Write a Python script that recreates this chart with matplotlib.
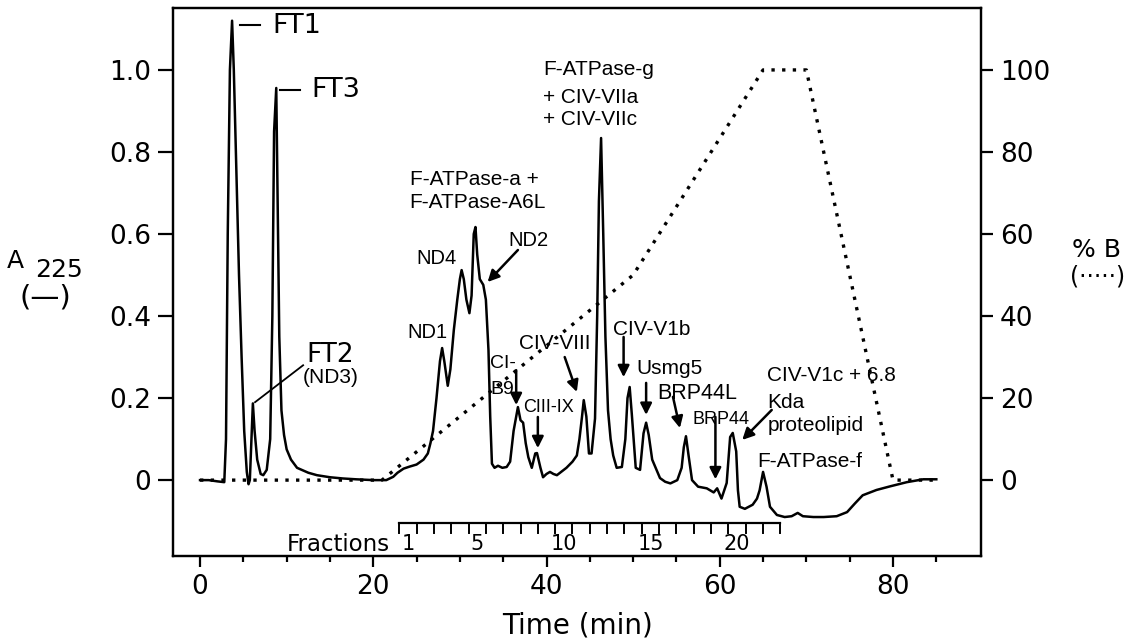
import matplotlib
matplotlib.use("Agg")
import matplotlib.pyplot as plt

plt.rcParams['font.family'] = ['Liberation Sans', 'DejaVu Sans']
WIDE = ['DejaVu Sans']

# ---- data ----
time_min = [0, 1, 2.0, 2.8, 3.0, 3.2, 3.45, 3.7, 3.9, 4.2, 4.5, 4.8, 5.1, 5.4, 5.6, 5.75,
            5.9, 6.1, 6.3, 6.6, 7.0, 7.3, 7.7, 8.1, 8.35, 8.55, 8.8, 8.95, 9.15, 9.4, 9.7,
            10.0, 10.5, 11.2, 12.5, 13.5, 15, 16.5, 18, 20, 21.5, 22.3, 22.8, 23.5, 24.2,
            25.0, 25.8, 26.3, 26.6, 26.9, 27.3, 27.7, 27.95, 28.2, 28.6, 28.9, 29.3, 29.7,
            30.0, 30.2, 30.45, 30.75, 31.1, 31.35, 31.6, 31.8, 32.0, 32.3, 32.7, 33.0, 33.3,
            33.5, 33.7, 34.0, 34.4, 34.9, 35.4, 35.8, 36.2, 36.7, 37.0, 37.3, 37.6, 37.9,
            38.3, 38.7, 38.9, 39.3, 39.6, 40.0, 40.4, 40.8, 41.2, 41.8, 42.3, 43.0, 43.5,
            43.8, 44.1, 44.3, 44.6, 44.9, 45.2, 45.6, 45.85, 46.05, 46.3, 46.55, 46.8,
            47.1, 47.4, 47.7, 48.1, 48.7, 49.1, 49.35, 49.6, 49.85, 50.3, 50.8, 51.2, 51.5,
            51.8, 52.2, 52.6, 53.1, 53.7, 54.3, 55.1, 55.6, 55.85, 56.1, 56.4, 56.8, 57.5,
            58.5, 59.3, 59.7, 60.2, 60.8, 61.2, 61.5, 61.9, 62.1, 62.3, 62.9, 63.8, 64.3,
            64.6, 65.0, 65.4, 65.8, 66.6, 67.5, 68.3, 69.0, 69.6, 70.8, 72.0, 73.5, 74.7,
            75.6, 76.5, 78.1, 79.7, 81.6, 83.5, 85.0]
a225 = [0.0, 0.0, -0.003, -0.005, 0.1, 0.6, 1.0, 1.12, 1.0, 0.75, 0.5, 0.3, 0.12, 0.02, -0.01, 0.0,
        0.08, 0.187, 0.12, 0.05, 0.015, 0.012, 0.025, 0.1, 0.4, 0.85, 0.956, 0.7, 0.35, 0.17, 0.11,
        0.075, 0.05, 0.03, 0.018, 0.012, 0.007, 0.004, 0.002, 0.0, 0.0, 0.008, 0.018, 0.028, 0.033,
        0.038, 0.05, 0.065, 0.09, 0.12, 0.2, 0.29, 0.322, 0.29, 0.23, 0.27, 0.366, 0.44,
        0.49, 0.512, 0.49, 0.44, 0.407, 0.45, 0.6, 0.617, 0.55, 0.49, 0.476, 0.44, 0.317,
        0.155, 0.04, 0.03, 0.035, 0.03, 0.032, 0.045, 0.12, 0.178, 0.146, 0.14, 0.09, 0.056,
        0.03, 0.065, 0.066, 0.03, 0.007, 0.015, 0.02, 0.015, 0.012, 0.022, 0.03, 0.045, 0.06,
        0.1, 0.155, 0.195, 0.155, 0.065, 0.065, 0.15, 0.4, 0.68, 0.834, 0.6, 0.35,
        0.17, 0.1, 0.06, 0.03, 0.032, 0.1, 0.2, 0.227, 0.16, 0.03, 0.025, 0.114, 0.14,
        0.11, 0.05, 0.03, 0.005, -0.004, -0.008, 0.0, 0.03, 0.08, 0.107, 0.06, 0.0, -0.016,
        -0.02, -0.03, -0.02, -0.045, -0.007, 0.105, 0.115, 0.07, -0.025, -0.065, -0.07, -0.06, -0.045,
        -0.025, 0.02, -0.016, -0.065, -0.085, -0.09, -0.088, -0.08, -0.088, -0.09, -0.09, -0.088, -0.078,
        -0.057, -0.037, -0.024, -0.015, -0.005, 0.002, 0.002]

grad_time = [0, 21, 50, 65, 70, 80, 85]
grad_pct = [0, 0, 50, 100, 100, 0, 0]

fraction_start = 23.0
fraction_width = 2.0
n_fractions = 22
fraction_labels = [1, 5, 10, 15, 20]

x_ticks = [0, 20, 40, 60, 80]
left_ticks = [0, 0.2, 0.4, 0.6, 0.8, 1.0]
left_tick_labels = ["0", "0.2", "0.4", "0.6", "0.8", "1.0"]
right_ticks = [0, 20, 40, 60, 80, 100]

# ---- figure ----
W, H = 1146, 642
fig = plt.figure(figsize=(W / 100, H / 100), dpi=100)
ax = fig.add_axes([173 / W, 1 - 556 / H, (981 - 173) / W, (556 - 8) / H])
ax.set_xlim(-3.12, 90.16)
ax.set_ylim(-0.185, 1.151)

ax.plot(time_min, a225, color='black', lw=1.8, solid_joinstyle='round', zorder=3)

ax2 = ax.twinx()
ax2.set_ylim(-18.5, 115.1)
ax2.plot(grad_time, grad_pct, color='black', lw=2.4, linestyle=(0, (1, 2.2)),
         dash_capstyle='butt', zorder=2)

for a in (ax, ax2):
    for s in a.spines.values():
        s.set_linewidth(1.6)

ax.set_xticks(x_ticks)
ax.set_xticks([t for t in range(5, 90, 5) if t not in x_ticks], minor=True)
ax.tick_params(axis='x', which='major', direction='out', length=8, width=1.6,
               labelsize=19, pad=5)
ax.tick_params(axis='x', which='minor', direction='out', length=4.5, width=1.6)
ax.set_yticks(left_ticks)
ax.set_yticklabels(left_tick_labels)
ax.tick_params(axis='y', direction='out', length=10.8, width=1.6, labelsize=19, pad=5)
ax2.set_yticks(right_ticks)
ax2.set_yticklabels([str(v) for v in right_ticks])
ax2.tick_params(axis='y', direction='out', length=8.6, width=1.6, labelsize=19, pad=5)
for lbl in ax.get_xticklabels() + ax.get_yticklabels() + ax2.get_yticklabels():
    lbl.set_family(WIDE)

ax.set_xlabel("Time (min)", fontsize=20, labelpad=8, family=WIDE)

# ---- fraction ruler ----
edges = [fraction_start + fraction_width * i for i in range(n_fractions + 1)]
ruler_y, tick_y, lab_y = -0.105, -0.129, -0.156
ax.plot([edges[0], edges[-1]], [ruler_y, ruler_y], color='black', lw=1.6, zorder=3)
for e in edges:
    ax.plot([e, e], [ruler_y, tick_y], color='black', lw=1.4, zorder=3)
for n in fraction_labels:
    xc = fraction_start + fraction_width * (n - 0.5)
    ax.text(xc, lab_y, str(n), ha='center', va='center', fontsize=15, family=WIDE)
ax.text(21.9, lab_y, "Fractions", ha='right', va='center', fontsize=16.5, family=WIDE)

# ---- peak labels ----
def lab(x, y, s, size=15, **kw):
    ax.text(x, y, s, ha='left', va='center', fontsize=size, **kw)

def arrow(x0, y0, x1, y1):
    ax.annotate("", xy=(x1, y1), xytext=(x0, y0),
                arrowprops=dict(arrowstyle='-|>', color='black', lw=1.8,
                                mutation_scale=17, shrinkA=0, shrinkB=0))

ax.plot([4.6, 6.9], [1.11, 1.11], color='black', lw=1.5)
lab(8.3, 1.108, "FT1", size=19.5, family=WIDE)
ax.plot([9.2, 11.5], [0.951, 0.951], color='black', lw=1.5)
lab(12.9, 0.95, "FT3", size=19.5, family=WIDE)
ax.plot([6.35, 11.9], [0.19, 0.28], color='black', lw=1.3)
lab(12.3, 0.305, "FT2", size=19, family=WIDE)
lab(11.9, 0.249, "(ND3)", size=15)

lab(24.2, 0.732, "F-ATPase-a +")
lab(24.2, 0.676, "F-ATPase-A6L")
lab(25.0, 0.541, "ND4", size=14.5)
lab(35.6, 0.585, "ND2", size=14.5)
arrow(36.7, 0.561, 33.2, 0.483)
lab(23.9, 0.361, "ND1", size=14.5)
lab(33.5, 0.285, "CI-", size=14)
lab(33.5, 0.22, "B9", size=14)
arrow(36.5, 0.268, 36.5, 0.183)
lab(37.3, 0.178, "CIII-IX", size=13)
arrow(39.0, 0.154, 39.0, 0.078)
lab(36.8, 0.334, "CIV-VIII")
arrow(42.1, 0.30, 43.5, 0.215)
lab(39.6, 1.0, "F-ATPase-g")
lab(39.6, 0.934, "+ CIV-VIIa")
lab(39.6, 0.878, "+ CIV-VIIc")
lab(47.7, 0.368, "CIV-V1b")
arrow(48.9, 0.349, 48.9, 0.251)
lab(50.4, 0.273, "Usmg5")
arrow(51.5, 0.237, 51.5, 0.159)
lab(52.8, 0.212, "BRP44L", size=15.5)
arrow(54.6, 0.203, 55.4, 0.127)
lab(56.9, 0.149, "BRP44", size=13)
arrow(59.5, 0.154, 59.5, 0.002)
lab(65.5, 0.256, "CIV-V1c + 6.8")
lab(65.5, 0.19, "Kda")
lab(65.5, 0.134, "proteolipid")
arrow(66.0, 0.171, 62.6, 0.098)
lab(64.3, 0.046, "F-ATPase-f")

# ---- axis titles ----
fig.text(7 / W, 1 - 261 / H, "A", fontsize=18, ha='left', va='center', family=WIDE)
fig.text(35 / W, 1 - 270 / H, "225", fontsize=18, ha='left', va='center', family=WIDE)
fig.text(45 / W, 1 - 298 / H, "(\u2014)", fontsize=21, ha='center', va='center', family=WIDE)
fig.text(1072 / W, 1 - 250 / H, "% B", fontsize=18, ha='left', va='center', family=WIDE)
fig.text(1070 / W, 1 - 276 / H, "(\u00b7\u00b7\u00b7\u00b7\u00b7)", fontsize=17, ha='left',
         va='center', family=WIDE)

fig.savefig("out.png", dpi=100)
